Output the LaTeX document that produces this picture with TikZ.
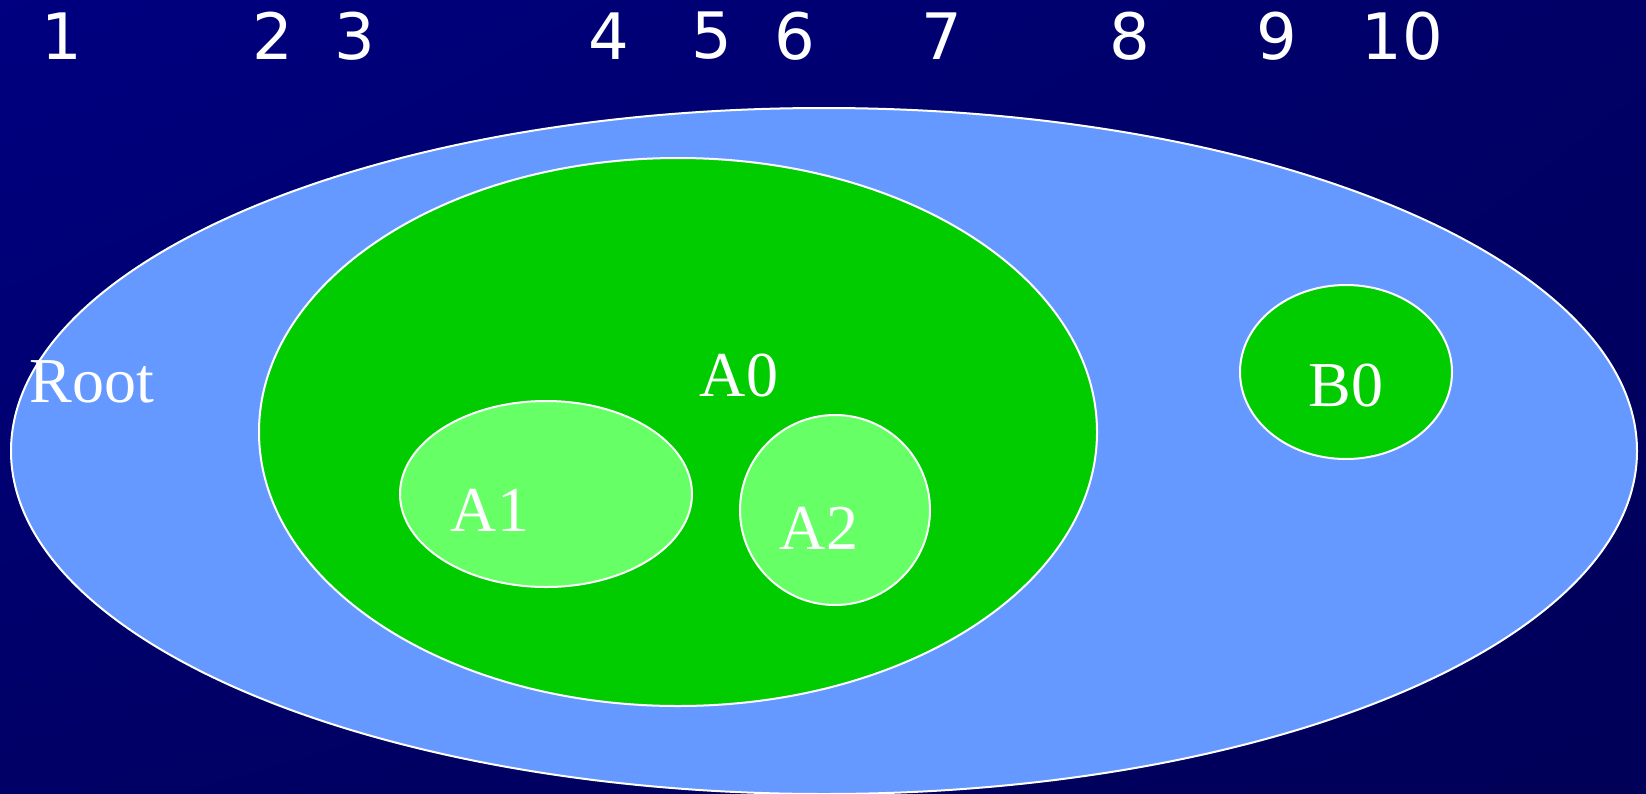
\documentclass[tikz,border=0pt]{standalone}
\usepackage{fontspec}
\setmainfont{Liberation Serif}
\newfontfamily\numfont{DejaVu Sans}
\usetikzlibrary{shapes.geometric,shadings}
\definecolor{bgA}{HTML}{000080}
\definecolor{bgB}{HTML}{000066}
\definecolor{bgC}{HTML}{000058}
\definecolor{rootblue}{HTML}{6699FF}
\definecolor{agreen}{HTML}{00CC00}
\definecolor{lgreen}{HTML}{66FF66}
\tikzset{
  setnode/.style={ellipse, draw=white, line width=2pt, inner sep=0pt},
  numlbl/.style={text=white, font=\numfont\fontsize{64}{64}\selectfont, inner sep=0pt, anchor=center},
  setlbl/.style={text=white, font=\fontsize{64}{64}\selectfont, inner sep=0pt, anchor=center}
}
\begin{document}
\begin{tikzpicture}[x=1pt,y=-1pt]
\useasboundingbox (0,0) rectangle (1646,793);
\shade[upper left=bgA, upper right=bgB, lower left=bgB, lower right=bgC] (0,0) rectangle (1646,793);
\node[setnode, fill=rootblue, minimum width=1626pt, minimum height=686pt] (root) at (824,451) {};
\node[setnode, fill=agreen, minimum width=838pt, minimum height=548pt] (a0) at (678,432) {};
\node[setnode, fill=lgreen, minimum width=292pt, minimum height=186pt] (a1) at (546,494) {};
\node[setnode, fill=lgreen, minimum width=190pt, minimum height=190pt] (a2) at (835,510) {};
\node[setnode, fill=agreen, minimum width=212pt, minimum height=174pt] (b0) at (1346,372) {};
\node[setlbl] (lroot) at (92,382) {Root};
\node[setlbl] (la0) at (739,376) {A0};
\node[setlbl] (la1) at (490,510) {A1};
\node[setlbl] (la2) at (819,528) {A2};
\node[setlbl] (lb0) at (1346,386) {B0};
\node[numlbl] (n1) at (62,36) {1};
\node[numlbl] (n2) at (273,36) {2};
\node[numlbl] (n3) at (355,36) {3};
\node[numlbl] (n4) at (609,36) {4};
\node[numlbl] (n5) at (712,36) {5};
\node[numlbl] (n6) at (795,36) {6};
\node[numlbl] (n7) at (942,36) {7};
\node[numlbl] (n8) at (1130,36) {8};
\node[numlbl] (n9) at (1277,36) {9};
\node[numlbl] (n10) at (1402,36) {10};
\end{tikzpicture}
\end{document}
